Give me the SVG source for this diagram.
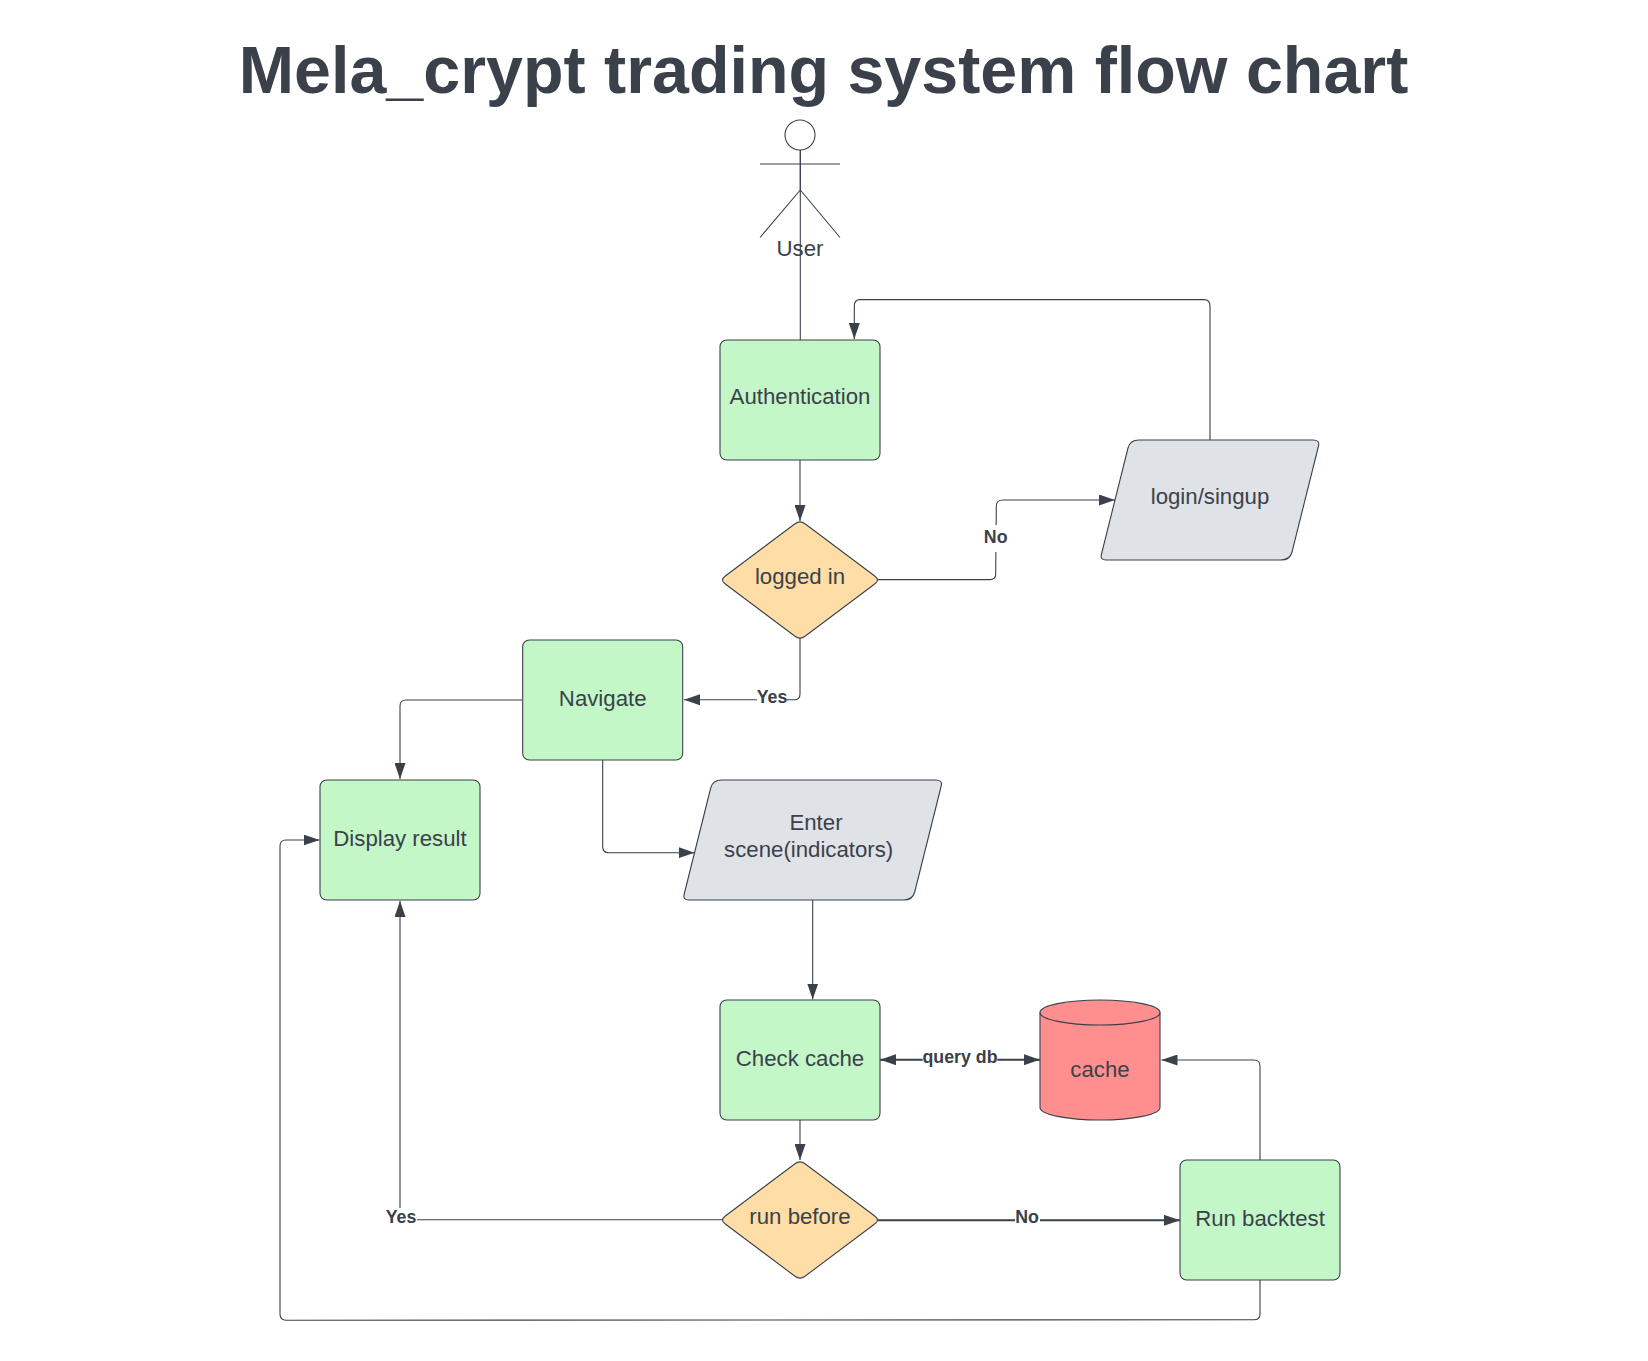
<svg xmlns="http://www.w3.org/2000/svg" width="1648" height="1361" viewBox="0 0 1648 1361">
<defs>
<marker id="arrow" markerUnits="userSpaceOnUse" markerWidth="16" markerHeight="11" viewBox="0 0 16 11" refX="16" refY="5.500" orient="auto-start-reverse"><path d="M0 0L16 5.500L0 11Z" fill="#3a414a"/></marker>
</defs>
<style>
text{font-family:"Liberation Sans",Arial,sans-serif;fill:#3a414a;text-anchor:middle}
.t{font-size:22.22px}
.lb{font-size:17.78px;font-weight:bold}
.title{font-size:66.4px;font-weight:bold}
.n{stroke:#3a414a;stroke-width:1.1;stroke-linejoin:round}
.g{fill:#c3f7c8}.y{fill:#dfe3e8}.o{fill:#ffdda6}.r{fill:#ff8f8f}
.c{fill:none;stroke:#3a414a;stroke-width:1.1}
.h{stroke-width:2}
.a{marker-end:url(#arrow)}
.bg{fill:#fff}
</style>
<rect width="1648" height="1361" fill="#fff"/>
<text id="title" class="title" x="823.500" y="93">Mela_crypt trading system flow chart</text>
<g id="connectors">
<path class="c" d="M800.300 150V340"/>
<path class="c a" d="M800 460V521"/>
<path class="c a" d="M1210 440V306Q1210 299.600 1204 299.600H860Q854.300 299.600 854.300 306V339"/>
<path class="c a" d="M878 579.600H990Q995.700 579.600 995.700 574L996.300 506Q996.300 500 1003 500H1115"/>
<path class="c a" d="M800 638V694Q800 699.800 794 699.800H684"/>
<path class="c a" d="M522.700 700H406Q400 700 400 706V779"/>
<path class="c a" d="M602.700 760V846.700Q602.700 852.700 608.700 852.700H694.500"/>
<path class="c a" d="M812.700 900V999.500"/>
<path class="c a" d="M800 1120V1160"/>
<path class="c h a" d="M880 1059.700H1040" marker-start="url(#arrow)"/>
<path class="c a" d="M1260 1160V1066Q1260 1060 1254 1060H1161.500"/>
<path class="c h a" d="M878 1220.300H1180"/>
<path class="c a" d="M722 1219.700H400V901"/>
<path class="c a" d="M1260 1280V1314Q1260 1319.800 1254 1319.800L286 1320.200Q280 1320.200 280 1314V846Q280 840 286 840H319.500"/>
</g>
<g id="label-no-1"><rect class="bg" x="983" y="525" width="26" height="27"/><text class="lb" x="995.700" y="543.300">No</text></g>
<g id="label-yes-1"><rect class="bg" x="757" y="688" width="29.700" height="22"/><text class="lb" x="772" y="703.300">Yes</text></g>
<g id="label-query"><rect class="bg" x="922.700" y="1048" width="74.600" height="22"/><text class="lb" x="960" y="1063.300">query db</text></g>
<g id="label-yes-2"><rect class="bg" x="387" y="1208" width="30" height="22"/><text class="lb" x="401" y="1222.700">Yes</text></g>
<g id="label-no-2"><rect class="bg" x="1015" y="1208" width="25" height="22"/><text class="lb" x="1027" y="1223">No</text></g>
<g id="user">
<circle cx="800" cy="135" r="15" fill="#fff" class="n"/>
<path class="c" d="M800.300 150V190M760 164H840M760 237.500L800.300 190L840 237.500"/>
<text class="t" x="800" y="256">User</text>
</g>
<g id="authentication"><rect class="n g" x="720" y="340" width="160" height="120" rx="6.670"/><text class="t" x="800" y="404">Authentication</text></g>
<g id="login"><path class="n y" d="M1128 448Q1130 440 1139 440H1313Q1320 440 1318.500 446L1292 552Q1290 560 1281 560H1106Q1100 560 1101.500 554Z"/><text class="t" x="1210" y="504">login/singup</text></g>
<g id="logged-in"><path class="n o" d="M795 523.750Q800 520 805 523.750L875 576.250Q880 580 875 583.750L805 636.250Q800 640 795 636.250L725 583.750Q720 580 725 576.250Z"/><text class="t" x="800" y="584">logged in</text></g>
<g id="navigate"><rect class="n g" x="522.700" y="640" width="160" height="120" rx="6.670"/><text class="t" x="602.700" y="706">Navigate</text></g>
<g id="display-result"><rect class="n g" x="320" y="780" width="160" height="120" rx="6.670"/><text class="t" x="400" y="846">Display result</text></g>
<g id="enter"><path class="n y" d="M710.700 788Q712.700 780 721.700 780H935.700Q942.700 780 941.200 786L914.700 892Q912.700 900 903.700 900H688.700Q682.700 900 684.200 894Z"/><text class="t" x="816" y="830">Enter</text><text class="t" x="808.700" y="857">scene(indicators)</text></g>
<g id="check-cache"><rect class="n g" x="720" y="1000" width="160" height="120" rx="6.670"/><text class="t" x="800" y="1066">Check cache</text></g>
<g id="cache"><path class="n r" d="M1040 1012.500A60 12.500 0 0 1 1160 1012.500V1107.500A60 12.500 0 0 1 1040 1107.500Z"/><path class="c" d="M1040 1012.500A60 12.500 0 0 0 1160 1012.500"/><text class="t" x="1100" y="1077">cache</text></g>
<g id="run-before"><path class="n o" d="M795 1163.750Q800 1160 805 1163.750L875 1216.250Q880 1220 875 1223.750L805 1276.250Q800 1280 795 1276.250L725 1223.750Q720 1220 725 1216.250Z"/><text class="t" x="800" y="1224">run before</text></g>
<g id="run-backtest"><rect class="n g" x="1180" y="1160" width="160" height="120" rx="6.670"/><text class="t" x="1260" y="1226">Run backtest</text></g>
</svg>
